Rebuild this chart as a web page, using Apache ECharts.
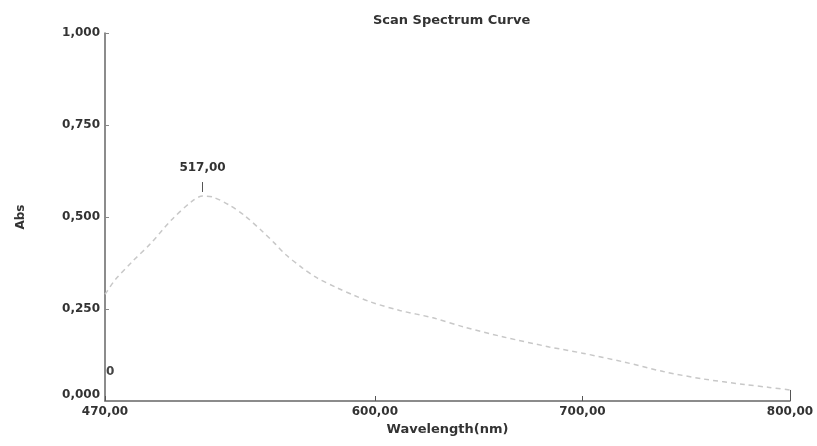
<!DOCTYPE html>
<html>
<head>
<meta charset="utf-8">
<script src="https://cdn.jsdelivr.net/npm/echarts@6/dist/echarts.min.js"></script>
<style>html,body{margin:0;padding:0;background:#fff}#c{width:817px;height:446px}</style>
</head>
<body>
<div id="c"></div>
<script>
// Wavelength (nm) and absorbance
var wavelengths = [470, 471, 475, 483, 492, 502, 512, 517, 522, 530, 537, 546, 552, 557, 565, 572, 582, 590, 598, 612, 628, 643, 662, 684, 700, 720, 739, 758, 778, 790, 800];
var absorbance  = [0.290, 0.298, 0.330, 0.378, 0.428, 0.492, 0.543, 0.557, 0.554, 0.532, 0.505, 0.460, 0.427, 0.398, 0.362, 0.335, 0.307, 0.287, 0.269, 0.246, 0.226, 0.201, 0.174, 0.147, 0.130, 0.106, 0.080, 0.060, 0.045, 0.037, 0.030];
var xTicks = [470, 600, 700, 800];
var peakWavelength = 517;
var peakAbs = 0.557;

var fmt = function (v, d) { return v.toFixed(d).replace('.', ','); };
var font = 'DejaVu Sans';

var chart = echarts.init(document.getElementById('c'));
chart.setOption({
  animation: false,
  backgroundColor: '#fff',
  title: {
    text: 'Scan Spectrum Curve',
    left: 368, top: 9,
    textStyle: { fontFamily: font, fontSize: 13, fontWeight: 'bold', color: '#333' }
  },
  grid: { left: 105, right: 27, top: 33, bottom: 45 },
  xAxis: {
    type: 'value', min: 470, max: 800,
    name: 'Wavelength(nm)', nameLocation: 'middle', nameGap: 22,
    nameTextStyle: { fontFamily: font, fontSize: 13, fontWeight: 'bold', color: '#333' },
    axisLine: { lineStyle: { color: '#666', width: 1.5 } },
    axisTick: { show: true, inside: true, length: 5, customValues: xTicks, lineStyle: { color: '#555' } },
    axisLabel: { customValues: xTicks, formatter: function (v) { return fmt(v, 2); }, margin: 5,
      fontFamily: font, fontSize: 12, fontWeight: 'bold', color: '#333' },
    splitLine: { show: false }
  },
  yAxis: {
    type: 'value', min: 0, max: 1, interval: 0.25,
    name: 'Abs', nameLocation: 'middle', nameGap: 78, nameRotate: 90,
    nameTextStyle: { fontFamily: font, fontSize: 12, fontWeight: 'bold', color: '#333' },
    axisLine: { show: true, lineStyle: { color: '#666', width: 1.5 } },
    axisTick: { show: true, inside: true, length: 4, lineStyle: { color: '#888' } },
    axisLabel: { formatter: function (v) { return fmt(v, 3); }, margin: 5, verticalAlignMinLabel: 'bottom',
      fontFamily: font, fontSize: 12, fontWeight: 'bold', color: '#333' },
    splitLine: { show: false }
  },
  series: [{
    type: 'line',
    data: wavelengths.map(function (w, i) { return [w, absorbance[i]]; }),
    smooth: 0.3,
    showSymbol: false,
    lineStyle: { color: '#c8c8c8', width: 1.5, type: [5, 4] },
    markLine: {
      silent: true, symbol: ['none', 'none'],
      lineStyle: { color: '#555', width: 1, type: 'solid' },
      data: [
        [{ coord: [peakWavelength, peakAbs + 0.011] }, { coord: [peakWavelength, peakAbs + 0.038],
          label: { show: true, position: 'end', formatter: fmt(peakWavelength, 2), distance: 8,
            fontFamily: font, fontSize: 12, fontWeight: 'bold', color: '#333' } }],
        [{ coord: [800, absorbance[absorbance.length - 1]] }, { coord: [800, 0.008], label: { show: false } }]
      ],
      label: { show: false }
    },
    markPoint: {
      symbolSize: 0,
      data: [{ coord: [472.5, 0.079], value: '0',
        label: { show: true, formatter: '0', position: 'inside', fontFamily: font, fontSize: 12, fontWeight: 'bold', color: '#444' } }]
    }
  }]
});
</script>
</body>
</html>
